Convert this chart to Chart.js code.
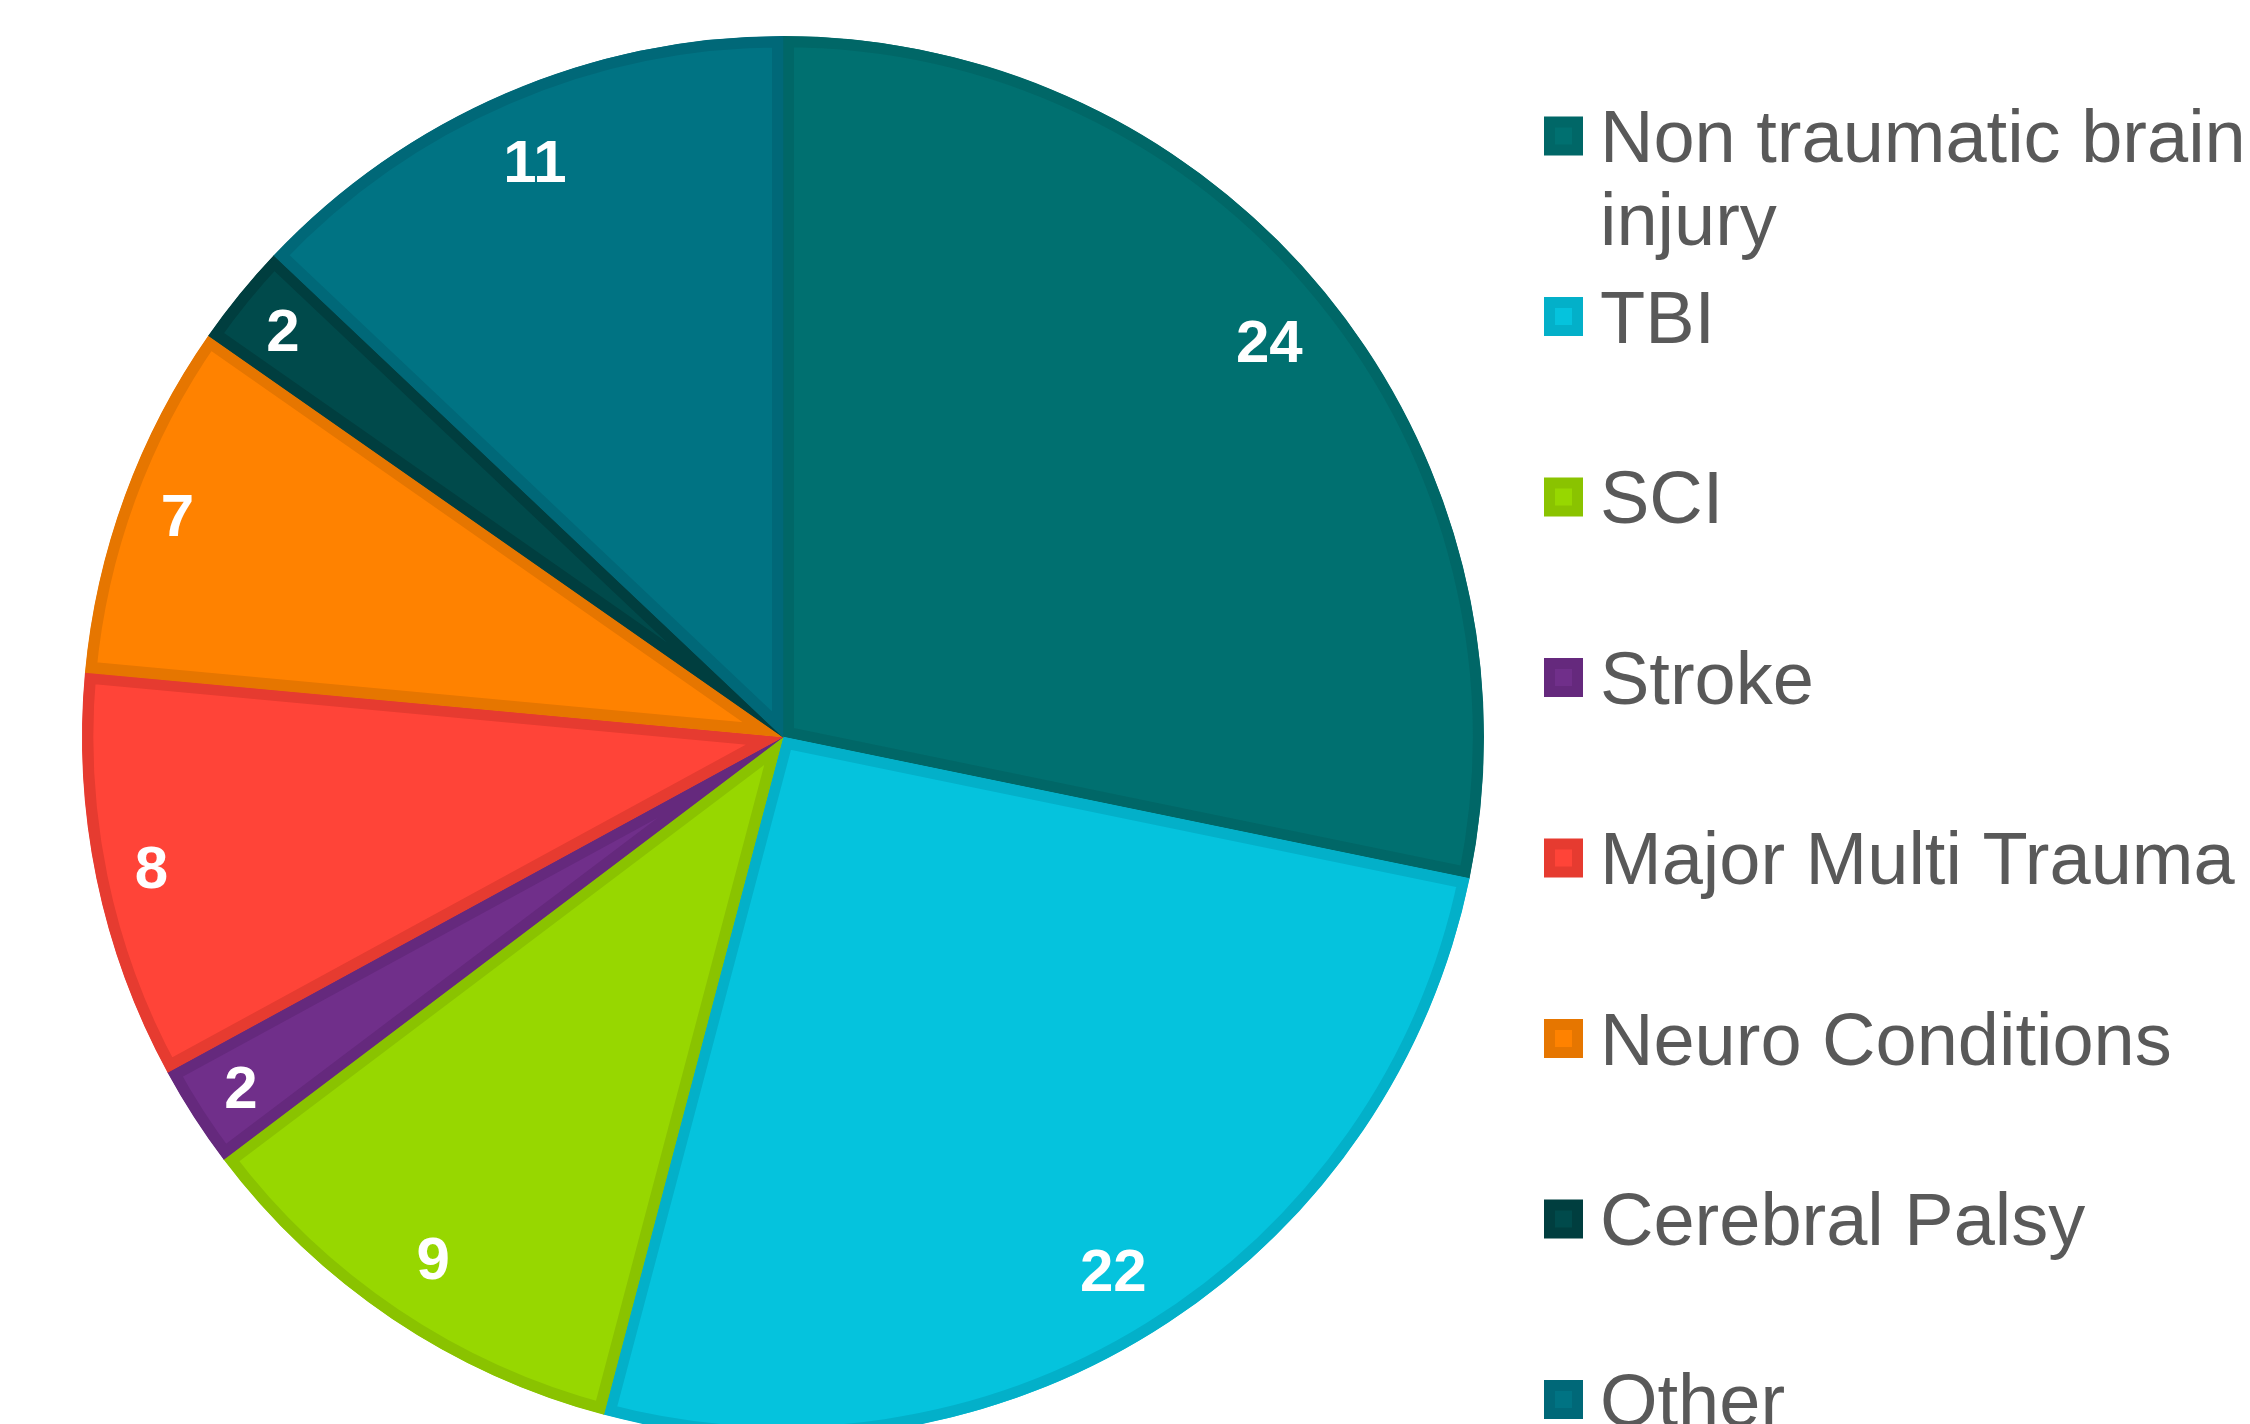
<!DOCTYPE html>
<html>
<head>
<meta charset="utf-8">
<script src="https://cdn.jsdelivr.net/npm/chart.js@4.4.1/dist/chart.umd.min.js"></script>
<style>
  html, body { margin: 0; padding: 0; background: #ffffff; overflow: hidden; }
  #wrap { position: absolute; left: 0; top: 0; width: 2250px; height: 1424px; }
</style>
</head>
<body>
<div id="wrap"><canvas id="c" width="2250" height="1424"></canvas></div>
<script>
const categories = ["Non traumatic brain injury", "TBI", "SCI", "Stroke", "Major Multi Trauma", "Neuro Conditions", "Cerebral Palsy", "Other"];
const values = [24, 22, 9, 2, 8, 7, 2, 11];
const fillColors = ["#007070", "#05C3DD", "#97D700", "#702F8A", "#FF4438", "#FF8200", "#004A4B", "#007383"];
const borderColors = ["#006767", "#03B0C9", "#8AC300", "#65297D", "#E63B30", "#E67600", "#003E3F", "#006878"];

function wrapText(ctx, text, maxW) {
  const words = text.split(' ');
  const lines = [];
  let cur = '';
  words.forEach(w => {
    const t = cur ? cur + ' ' + w : w;
    if (ctx.measureText(t).width > maxW && cur) { lines.push(cur); cur = w; }
    else cur = t;
  });
  if (cur) lines.push(cur);
  return lines;
}

const sideLegend = {
  id: 'sideLegend',
  afterDraw(chart) {
    const ctx = chart.ctx;
    ctx.save();
    ctx.font = '74px "Liberation Sans", Arial, sans-serif';
    ctx.textAlign = 'left';
    ctx.textBaseline = 'alphabetic';
    let y = 136;
    chart.data.labels.forEach((lab, i) => {
      const ds = chart.data.datasets[0];
      ctx.fillStyle = ds.borderColor[i];
      ctx.fillRect(1544, y - 19.5, 39, 39);
      ctx.fillStyle = ds.backgroundColor[i];
      ctx.fillRect(1555, y - 8.5, 17, 17);
      ctx.fillStyle = '#595959';
      const lines = wrapText(ctx, lab, 660);
      lines.forEach((ln, k) => ctx.fillText(ln, 1600, y + 26 + k * 83));
      y += 180.5;
    });
    ctx.restore();
  }
};

const sliceLabels = {
  id: 'sliceLabels',
  afterDatasetsDraw(chart) {
    const ctx = chart.ctx;
    const meta = chart.getDatasetMeta(0);
    ctx.save();
    ctx.font = 'bold 60px "Liberation Sans", Arial, sans-serif';
    ctx.fillStyle = '#ffffff';
    ctx.textAlign = 'center';
    ctx.textBaseline = 'alphabetic';
    meta.data.forEach((arc, i) => {
      const p = arc.getProps(['x', 'y', 'startAngle', 'endAngle', 'outerRadius'], true);
      const mid = (p.startAngle + p.endAngle) / 2;
      const span = p.endAngle - p.startAngle;
      const r = p.outerRadius * (span < 0.63 ? 0.92 : 0.895);
      const x = p.x + Math.cos(mid) * r;
      const y = p.y + Math.sin(mid) * r;
      ctx.fillText(String(chart.data.datasets[0].data[i]), x, y + 21);
    });
    ctx.restore();
  }
};

new Chart(document.getElementById('c'), {
  type: 'pie',
  data: {
    labels: categories,
    datasets: [{
      data: values,
      backgroundColor: fillColors,
      borderColor: borderColors,
      borderWidth: 11,
      borderAlign: 'inner',
      borderJoinStyle: 'miter',
      clip: false
    }]
  },
  options: {
    responsive: false,
    animation: false,
    radius: 701,
    layout: { padding: { left: 0, right: 684, top: 50, bottom: 0 } },
    plugins: {
      legend: { display: false },
      tooltip: { enabled: false },
      title: { display: false }
    }
  },
  plugins: [sliceLabels, sideLegend]
});
</script>
</body>
</html>
